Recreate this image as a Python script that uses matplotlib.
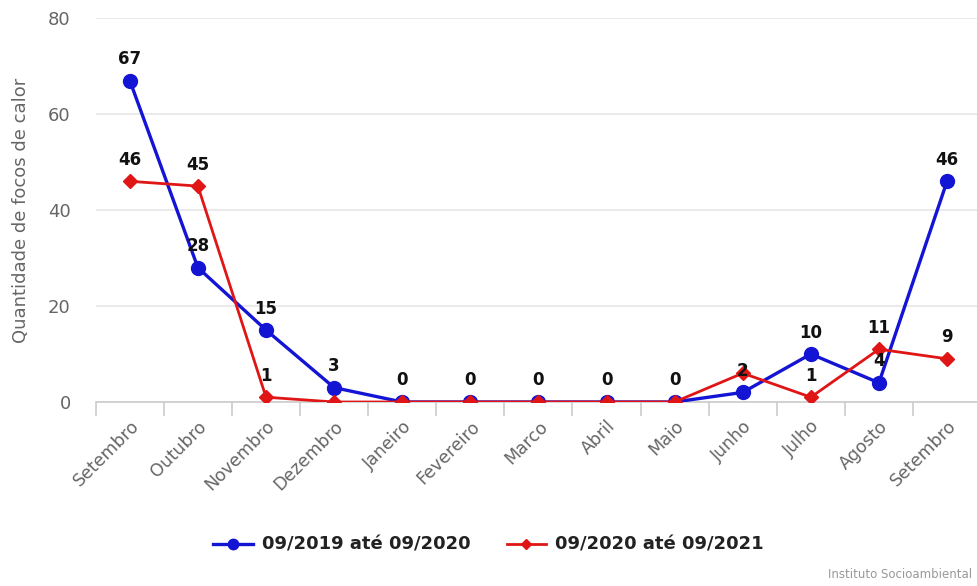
import numpy as np
import matplotlib.pyplot as plt

# meses (setembro a setembro)
meses = ['Setembro', 'Outubro', 'Novembro', 'Dezembro', 'Janeiro', 'Fevereiro',
         'Marco', 'Abril', 'Maio', 'Junho', 'Julho', 'Agosto', 'Setembro']

# focos de calor por periodo
focos_2019_2020 = [67, 28, 15, 3, 0, 0, 0, 0, 0, 2, 10, 4, 46]
focos_2020_2021 = [46, 45, 1, 0, 0, 0, 0, 0, 0, 6, 1, 11, 9]

# rotulos visiveis (None = escondido por sobreposicao)
rotulos_2019_2020 = [67, 28, 15, 3, 0, 0, 0, 0, 0, 2, 10, 4, 46]
rotulos_2020_2021 = [46, 45, 1, None, None, None, None, None, None, None, 1, 11, 9]

cor_azul = '#1414d4'
cor_vermelha = '#e01515'

fig = plt.figure(figsize=(9.77, 5.86), dpi=100)
ax = fig.add_axes([0.098, 0.314, 0.902, 0.655])

x = np.arange(len(meses))

ax.plot(x, focos_2019_2020, color=cor_azul, lw=2.4, marker='o', ms=10,
        label='09/2019 até 09/2020', zorder=3)
ax.plot(x, focos_2020_2021, color=cor_vermelha, lw=2.0, marker='D', ms=7,
        label='09/2020 até 09/2021', zorder=4)

# rotulos de dados
for xi, yi, r in zip(x, focos_2019_2020, rotulos_2019_2020):
    if r is not None:
        ax.annotate(str(r), (xi, yi), xytext=(0, 9), textcoords='offset points',
                    ha='center', va='bottom', fontsize=12, fontweight='bold',
                    color='#111111', zorder=6)
for xi, yi, r in zip(x, focos_2020_2021, rotulos_2020_2021):
    if r is not None:
        ax.annotate(str(r), (xi, yi), xytext=(0, 9), textcoords='offset points',
                    ha='center', va='bottom', fontsize=12, fontweight='bold',
                    color='#111111', zorder=6)

ax.set_xlim(-0.5, 12.44)
ax.set_ylim(0, 80)
ax.set_yticks([0, 20, 40, 60, 80])
ax.grid(axis='y', color='#e6e6e6', lw=1.2)
ax.set_axisbelow(True)

for s in ['top', 'right', 'left']:
    ax.spines[s].set_visible(False)
ax.spines['bottom'].set_color('#cccccc')
ax.spines['bottom'].set_linewidth(1.2)

# ticks entre as categorias
ax.set_xticks(np.arange(-0.5, 12.5, 1), minor=True)
ax.tick_params(axis='x', which='minor', length=10, width=1.2, color='#cccccc')
ax.set_xticks(x)
ax.set_xticklabels(meses, rotation=45, ha='right', rotation_mode='anchor',
                   fontsize=12.5, color='#666666')
ax.tick_params(axis='x', which='major', length=0, pad=11)
ax.tick_params(axis='y', length=0, labelsize=13, labelcolor='#666666', pad=18)

ax.set_ylabel('Quantidade de focos de calor', fontsize=13, color='#666666')
ax.yaxis.set_label_coords(-0.075, 0.5)

leg = fig.legend(loc='center', bbox_to_anchor=(0.5, 0.07), ncol=2, frameon=False,
                 fontsize=13, handlelength=2.2, columnspacing=2.0, handletextpad=0.5,
                 markerscale=0.75)
for t in leg.get_texts():
    t.set_color('#222222')
    t.set_fontweight('bold')

fig.text(0.995, 0.008, 'Instituto Socioambiental', ha='right', va='bottom',
         fontsize=8.5, color='#999999')

fig.savefig('out.png', dpi=100)
